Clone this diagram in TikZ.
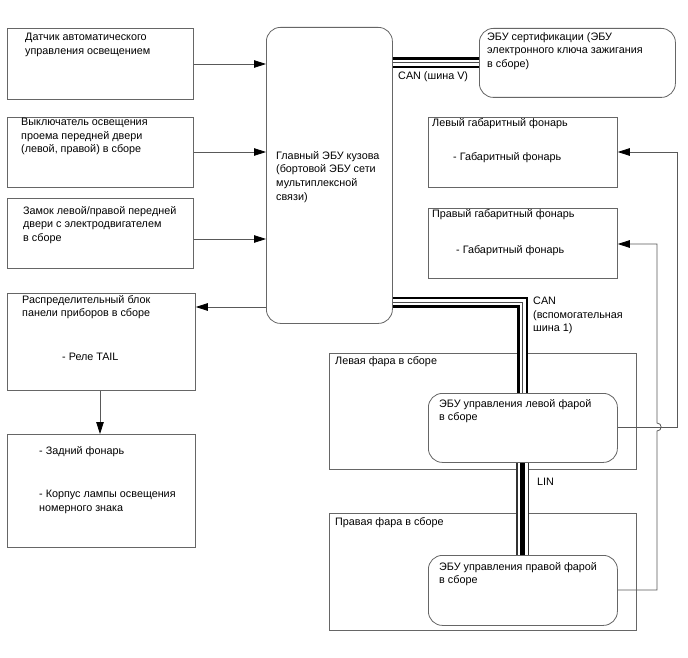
\documentclass[tikz,border=0pt]{standalone}
\usepackage{fontspec}
\setmainfont{Liberation Sans}
\usetikzlibrary{arrows.meta}
\begin{document}
\begin{tikzpicture}[x=1pt,y=-1pt,
  box/.style={draw=black!60, line width=0.8pt, anchor=north west, inner sep=0pt},
  rbox/.style={box, rounded corners=14pt},
  txt/.style={anchor=north west, inner sep=0pt, align=left, font=\fontsize{10.8}{13.6}\selectfont},
  conn/.style={draw=black!65, line width=0.8pt},
  arr/.style={conn, -{Triangle[length=12pt,width=7.5pt,color=black]}},
  canbus/.style={draw=black!70, line width=0.9pt, miter limit=10,
    preaction={draw=black, line width=11pt},
    preaction={draw=white, line width=6pt}},
  linbus/.style={draw=black, line width=5pt, miter limit=10,
    preaction={draw=black!80, line width=13pt},
    preaction={draw=white, line width=10.6pt}},
]
\useasboundingbox[fill=white] (0,0) rectangle (688,658);

% left boxes
\node[box, minimum width=186pt, minimum height=71pt] (b1) at (7,28) {};
\node[box, minimum width=186pt, minimum height=70pt] (b2) at (7,117) {};
\node[box, minimum width=186pt, minimum height=70pt] (b3) at (7,198) {};
\node[box, minimum width=188pt, minimum height=97pt] (b4) at (7,293) {};
\node[box, minimum width=188pt, minimum height=113pt] (b5) at (7,434) {};

% main ECU and certification ECU
\node[rbox, minimum width=126pt, minimum height=296pt] (main) at (266,27) {};
\node[rbox, minimum width=196pt, minimum height=69pt] (cert) at (479,28) {};

% right boxes
\node[box, minimum width=189pt, minimum height=70pt] (lg) at (428,117) {};
\node[box, minimum width=189pt, minimum height=70pt] (rg) at (428,208) {};
\node[box, minimum width=307pt, minimum height=116pt] (hl) at (329,353) {};
\node[rbox, minimum width=189pt, minimum height=69pt] (ecuL) at (428,393) {};
\node[box, minimum width=307pt, minimum height=117pt] (hr) at (329,513) {};
\node[rbox, minimum width=189pt, minimum height=70pt] (ecuR) at (428,555) {};

% texts
\node[txt] (t1) at (25,33) {Датчик автоматического\\управления освещением};
\node[txt] (t2) at (21,118) {Выключатель освещения\\проема передней двери\\(левой, правой) в сборе};
\node[txt] (t3) at (23,206) {Замок левой/правой передней\\двери с электродвигателем\\в сборе};
\node[txt] (t4) at (22,295) {Распределительный блок\\панели приборов в сборе};
\node[txt] (t4b) at (62,353) {- Реле TAIL};
\node[txt] (t5) at (39,446) {- Задний фонарь};
\node[txt] (t5b) at (39,490) {- Корпус лампы освещения\\номерного знака};
\node[txt] (tm) at (276,151) {Главный ЭБУ кузова\\(бортовой ЭБУ сети\\мультиплексной\\связи)};
\node[txt] (tc) at (487,32) {ЭБУ сертификации (ЭБУ\\электронного ключа зажигания\\в сборе)};
\node[txt] (tcan) at (398,71) {CAN (шина V)};
\node[txt] (tlg) at (432,118) {Левый габаритный фонарь};
\node[txt] (tlg2) at (453,152) {- Габаритный фонарь};
\node[txt] (trg) at (432,209) {Правый габаритный фонарь};
\node[txt] (trg2) at (456,245) {- Габаритный фонарь};
\node[txt] (thl) at (335,356) {Левая фара в сборе};
\node[txt] (tel) at (439,399) {ЭБУ управления левой фарой\\в сборе};
\node[txt] (thr) at (335,517) {Правая фара в сборе};
\node[txt] (ter) at (439,562) {ЭБУ управления правой фарой\\в сборе};
\node[txt] (tcan2) at (533,297) {CAN\\(вспомогательная\\шина 1)};
\node[txt] (tlin) at (537,478) {LIN};

% arrows
\draw[arr] (b1.east |- 0,64) -- (main.west |- 0,64);
\draw[arr] (b2.east |- 0,152) -- (main.west |- 0,152);
\draw[arr] (b3.east |- 0,239) -- (main.west |- 0,239);
\draw[arr] (main.west |- 0,307) -- (b4.east |- 0,307);
\draw[arr] (b4.south -| 100,0) -- (b5.north -| 100,0);

\coordinate (jL) at (677,427);
\coordinate (jR) at (657,590);
\draw[arr] (ecuL.east |- jL) -- (jL) -- (677,152) -- (lg.east |- 0,152);
\draw[arr] (ecuR.east |- jR) -- (jR) -- (657,431)
   .. controls (662.5,431) and (662.5,423) .. (657,423) -- (657,244) -- (rg.east |- 0,244);

% buses
\coordinate (canbend) at (ecuL.north |- 0,302);
\draw[canbus] (main.east |- cert.west) -- (cert.west);
\draw[canbus] (canbend -| main.east) -- (canbend) -- (ecuL.north);
\draw[linbus] (ecuL.south) -- (ecuR.north);
\end{tikzpicture}
\end{document}
